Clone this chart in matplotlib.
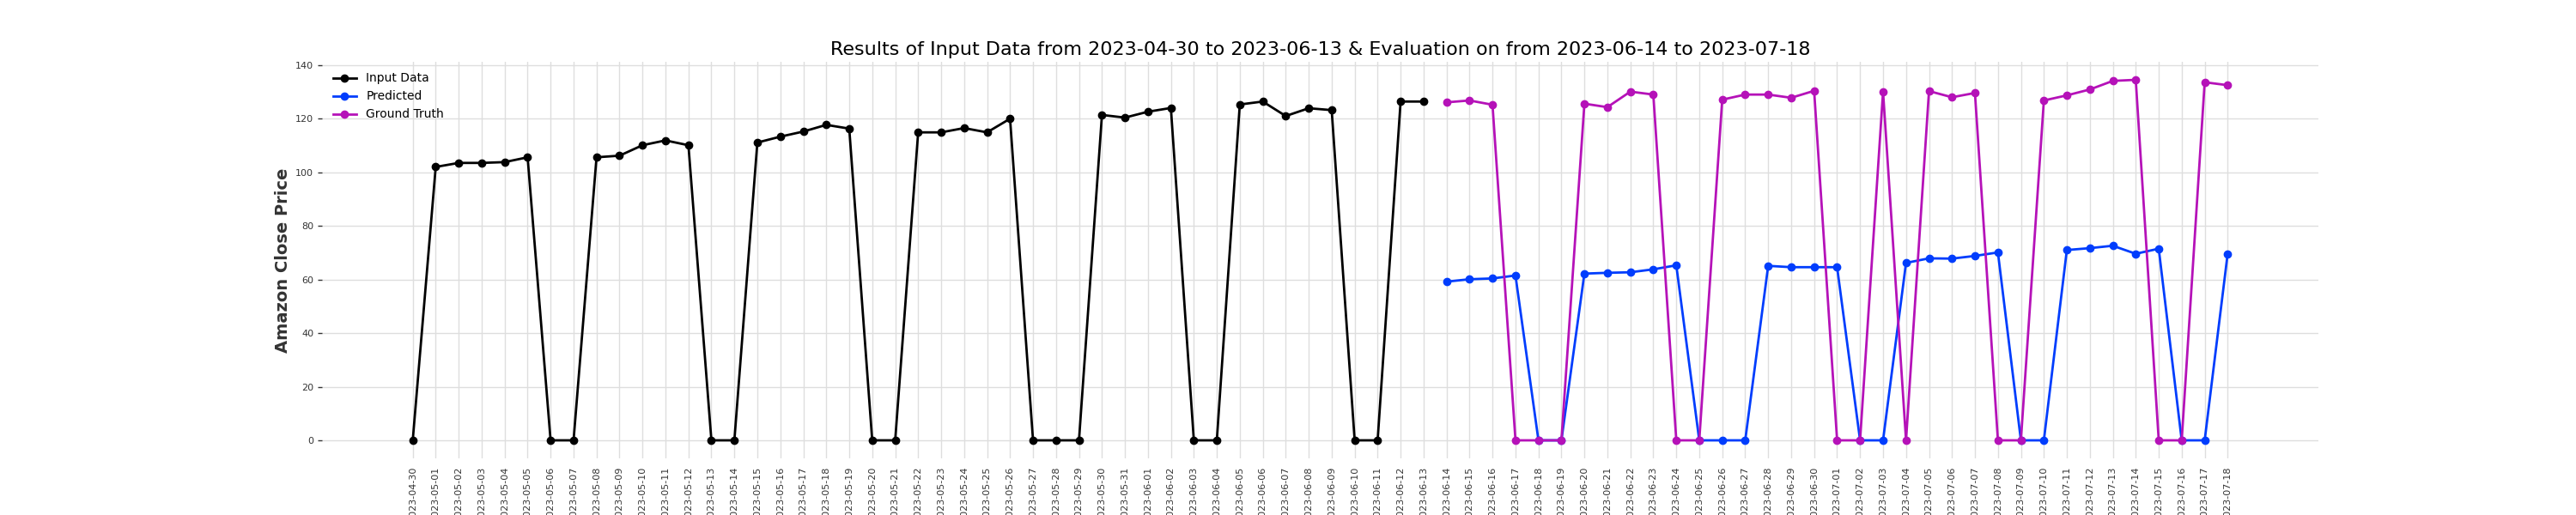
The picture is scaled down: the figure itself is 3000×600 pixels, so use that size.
import matplotlib
matplotlib.use("Agg")
import matplotlib.pyplot as plt
import matplotlib.dates as mdates
import pandas as pd

# Input data window (2023-04-30 .. 2023-06-13)
input_dates = pd.date_range("2023-04-30", "2023-06-13", freq="D")
input_values = [0, 102.0, 103.5, 103.5, 103.8, 105.6, 0, 0, 105.6, 106.2,
                110.1, 111.9, 110.1, 0, 0, 111.1, 113.3, 115.2, 117.7, 116.3,
                0, 0, 114.9, 114.9, 116.5, 114.9, 120.0, 0, 0, 0,
                121.4, 120.4, 122.6, 124.0, 0, 0, 125.3, 126.4, 121.0, 123.9,
                123.2, 0, 0, 126.4, 126.4]

# Evaluation window (2023-06-14 .. 2023-07-18)
eval_dates = pd.date_range("2023-06-14", "2023-07-18", freq="D")
predicted = [59.2, 60.1, 60.4, 61.5, 0, 0, 62.2, 62.5, 62.7, 63.8,
             65.3, 0, 0, 0, 65.1, 64.6, 64.6, 64.6, 0, 0,
             66.2, 67.9, 67.8, 68.8, 70.1, 0, 0, 71.0, 71.7, 72.6,
             69.6, 71.5, 0, 0, 69.6]
ground_truth = [126.1, 126.8, 125.2, 0, 0, 0, 125.6, 124.3, 130.1, 129.0,
                0, 0, 127.1, 129.0, 129.0, 127.8, 130.4, 0, 0, 130.1,
                0, 130.3, 128.0, 129.6, 0, 0, 126.8, 128.7, 130.9, 134.1,
                134.5, 0, 0, 133.6, 132.5]

all_dates = input_dates.append(eval_dates)

title = ("Results of Input Data from 2023-04-30 to 2023-06-13 & "
         "Evaluation on from 2023-06-14 to 2023-07-18")

# darts-like look
plt.rcParams.update({
    "axes.spines.top": False,
    "axes.spines.right": False,
    "axes.spines.bottom": False,
    "axes.spines.left": False,
    "axes.grid": True,
    "grid.color": "#dedede",
    "grid.linewidth": 1.0,
    "axes.labelcolor": "#333333",
    "xtick.color": "#333333",
    "ytick.color": "#333333",
    "xtick.labelsize": 8,
    "ytick.labelsize": 8,
    "legend.frameon": False,
})

fig, ax = plt.subplots(figsize=(30, 6), dpi=100)

ax.plot(input_dates, input_values, color="#000000", lw=2, marker="o",
        markersize=6, label="Input Data")
ax.plot(eval_dates, predicted, color="#003DFD", lw=2, marker="o",
        markersize=6, label="Predicted")
ax.plot(eval_dates, ground_truth, color="#b512b8", lw=2, marker="o",
        markersize=6, label="Ground Truth")

# one tick per day, only over the plotted range
ax.set_xticks(all_dates)
ax.xaxis.set_major_formatter(mdates.DateFormatter("%Y-%m-%d"))
ax.tick_params(axis="x", rotation=90, width=0)
ax.tick_params(axis="y", width=1)

ax.set_ylabel("Amazon Close Price", fontsize=14, fontweight="bold")
ax.set_title(title, fontsize=16)
ax.legend(loc="upper left", fontsize=10)

fig.savefig("out.png")
